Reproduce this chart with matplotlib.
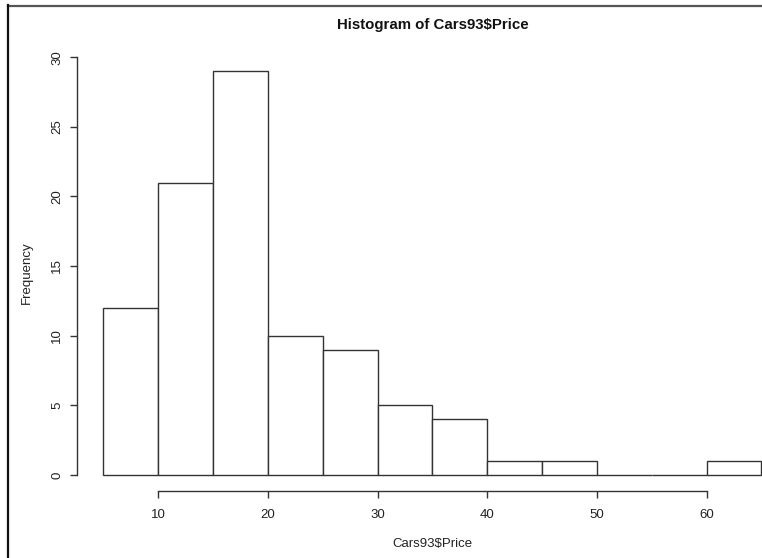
import matplotlib
matplotlib.use("Agg")
import matplotlib.pyplot as plt

# price bins (thousands of $) and counts per bin
breaks = [5, 10, 15, 20, 25, 30, 35, 40, 45, 50, 55, 60, 65]
counts = [12, 21, 29, 10, 9, 5, 4, 1, 1, 0, 0, 1]
xticks = [10, 20, 30, 40, 50, 60]
yticks = [0, 5, 10, 15, 20, 25, 30]

plt.rcParams['font.family'] = ['Liberation Sans', 'DejaVu Sans']
txt = '#222222'
line = '#333333'

W, H = 762, 558
fig = plt.figure(figsize=(W / 100, H / 100), dpi=100)
# plot region as in the R screenshot (right side is cut off)
left, right, top, bottom = 77, 762, 55, 491
ax = fig.add_axes([left / W, 1 - bottom / H, (right - left) / W, (bottom - top) / H])

widths = [b - a for a, b in zip(breaks[:-1], breaks[1:])]
ax.bar(breaks[:-1], counts, width=widths, align='edge',
       facecolor='white', edgecolor=line, linewidth=1.0, clip_on=False)

ax.set_xlim(2.6, 65.05)
ax.set_ylim(-1.16, 30.16)

for s in ['top', 'right']:
    ax.spines[s].set_visible(False)
ax.spines['left'].set_bounds(0, 30)
ax.spines['bottom'].set_bounds(10, 60)
for s in ['left', 'bottom']:
    ax.spines[s].set_color(line)
    ax.spines[s].set_linewidth(1.0)

ax.set_xticks(xticks)
ax.set_yticks(yticks)
ax.set_yticklabels([str(v) for v in yticks], rotation=90, va='center')
ax.tick_params(axis='both', length=5, width=1.0, color=line,
               labelsize=9.5, labelcolor=txt)
ax.tick_params(axis='x', pad=8)
ax.tick_params(axis='y', pad=5)

cx = ((77 + 788) / 2) / W
fig.text(cx, 1 - 25 / H, 'Histogram of Cars93\\$Price', ha='center', va='center',
         fontsize=10.8, fontweight='bold', color='#111111')
fig.text(cx, 1 - 544 / H, 'Cars93\\$Price', ha='center', va='center',
         fontsize=9.5, color=txt)
fig.text(27 / W, 1 - 273 / H, 'Frequency', ha='center', va='center',
         rotation=90, fontsize=9.5, color=txt)

# screenshot frame on top and left
fig.add_artist(plt.Line2D([8 / W, 1], [1 - 5.5 / H, 1 - 5.5 / H], color='#555555', lw=1.6))
fig.add_artist(plt.Line2D([7.5 / W, 7.5 / W], [0, 1 - 5 / H], color='#111111', lw=1.6))

fig.savefig('out.png', dpi=100)
